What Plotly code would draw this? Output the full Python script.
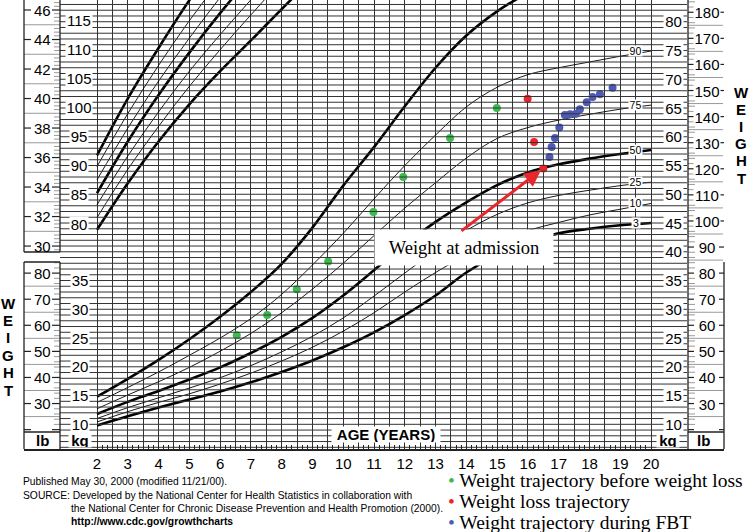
import numpy as np
import plotly.graph_objects as go

# ---------------- data ----------------
ages = list(range(2, 21))
wt_p3  = [9.8, 11.4, 12.9, 14.3, 15.7, 17.3, 19.1, 21.1, 23.4, 26.0, 29.0, 32.4, 36.4, 39.5, 41.8, 43.2, 44.0, 44.6, 45.0]
wt_p10 = [10.4, 12.2, 13.8, 15.3, 17.0, 18.9, 21.0, 23.4, 26.2, 29.4, 33.0, 36.4, 39.4, 41.8, 43.7, 45.1, 46.4, 47.4, 48.4]
wt_p25 = [11.0, 12.9, 14.6, 16.3, 18.1, 20.2, 22.6, 25.3, 28.5, 32.3, 36.3, 40.2, 43.7, 46.5, 48.5, 49.8, 50.7, 51.5, 52.1]
wt_p50 = [11.8, 13.9, 15.8, 17.8, 19.9, 22.4, 25.2, 28.5, 32.4, 36.8, 41.2, 45.2, 48.6, 51.6, 53.8, 55.2, 56.2, 57.0, 57.7]
wt_p75 = [12.7, 15.1, 17.4, 19.9, 22.7, 25.8, 29.4, 33.5, 38.0, 42.8, 47.6, 52.0, 56.3, 59.7, 61.6, 62.9, 63.9, 64.8, 65.5]
wt_p90 = [13.8, 16.4, 19.1, 22.0, 25.0, 28.4, 32.6, 37.7, 43.2, 49.2, 55.0, 60.3, 65.2, 68.6, 70.8, 72.0, 73.0, 74.0, 74.9]
wt_p97 = [14.8, 17.9, 21.2, 24.8, 28.7, 33.0, 37.9, 44.2, 51.5, 58.2, 65.3, 72.0, 77.6, 81.8, 85.0, 87.5, 89.5, 91.0, 92.5]
wt_curves = [("3", wt_p3, True), ("10", wt_p10, False), ("25", wt_p25, False), ("50", wt_p50, True),
             ("75", wt_p75, False), ("90", wt_p90, False), ("97", wt_p97, True)]

st_ages = [2, 3, 4, 5, 6, 7, 8, 9]
st_p3  = [79.0, 87.0, 94.2, 100.6, 106.3, 111.6, 117.0, 122.3]
st_p10 = [81.1, 89.4, 96.8, 103.7, 110.0, 116.0, 121.8, 127.0]
st_p25 = [83.3, 91.7, 99.3, 106.3, 112.6, 118.6, 124.5, 130.0]
st_p50 = [85.3, 94.2, 102.2, 109.5, 116.3, 122.6, 128.6, 134.5]
st_p75 = [87.6, 96.5, 104.6, 112.0, 119.0, 125.6, 132.0, 138.0]
st_p90 = [89.9, 99.0, 107.3, 115.0, 122.0, 128.8, 135.0, 141.0]
st_p97 = [91.8, 101.6, 110.3, 118.5, 125.8, 132.5, 139.0, 145.0]
st_curves = [(st_p3, True), (st_p10, False), (st_p25, False), (st_p50, True),
             (st_p75, False), (st_p90, False), (st_p97, True)]

green_age = [6.54, 7.53, 8.49, 9.51, 10.98, 11.95, 13.47, 14.99]
green_wt  = [25.5, 29.0, 33.5, 38.3, 46.9, 53.0, 59.8, 65.0]
red_age = [15.99, 16.20, 16.50]
red_wt  = [66.6, 59.1, 54.5]
blue_age = [16.70, 16.77, 16.88, 17.02, 17.20, 17.37, 17.56, 17.69, 17.91, 18.10, 18.34, 18.75]
blue_wt  = [56.5, 58.2, 59.8, 61.6, 63.8, 63.9, 64.0, 64.8, 66.0, 66.9, 67.4, 68.5]

age_ticks = list(range(2, 21))
kg_ticks_right = list(range(10, 81, 5))
kg_ticks_left = list(range(10, 36, 5))
cm_ticks = list(range(80, 116, 5))
in_ticks = list(range(30, 47, 2))
lb_ticks_left = list(range(30, 81, 10))
lb_ticks_right = list(range(30, 181, 10))

legend_items = [("#3dba4e", "Weight trajectory before weight loss"),
                ("#e8262b", "Weight loss trajectory"),
                ("#4d5bb5", "Weight trajectory during FBT")]
footer = ["Published May 30, 2000 (modified 11/21/00).",
          "SOURCE: Developed by the National Center for Health Statistics in collaboration with",
          "the National Center for Chronic Disease Prevention and Health Promotion (2000).",
          "<b>http://www.cdc.gov/growthcharts</b>"]

# ---------------- geometry ----------------
FIG_W, FIG_H = 749, 532
PL, PR, PT, PB = 24, 724, 0, 449
AGE2_PX, PX_PER_YEAR = 97.0, 30.78
KG10_PY, PX_PER_KG = 424.3, 5.751
CM80_PY, PX_PER_CM = 224.0, 5.809
LB = 0.45359237
INCH = 2.54

def age_at(px): return 2 + (px - AGE2_PX) / PX_PER_YEAR
def kg_at(py): return 10 + (KG10_PY - py) / PX_PER_KG
def cm_at(py): return 80 + (CM80_PY - py) / PX_PER_CM
def pxp(px): return (px - PL) / (PR - PL)
def pyp(py): return 1 - (py - PT) / (PB - PT)

SANS = "Liberation Sans"
SERIF = "Liberation Serif"
GRID = "#333333"
DARK = "#222222"
GRAY = "#9a9a9a"

fig = go.Figure()

def seg_trace(segs, color, width, xaxis="x", yaxis="y"):
    xs, ys = [], []
    for x0, y0, x1, y1 in segs:
        xs += [x0, x1, None]
        ys += [y0, y1, None]
    return go.Scatter(x=xs, y=ys, mode="lines", line=dict(color=color, width=width),
                      hoverinfo="skip", showlegend=False, xaxis=xaxis, yaxis=yaxis)

# horizontal grid (1 kg)
hsegs = [(age_at(60), k, age_at(687), k) for k in range(6, 84)]
fig.add_trace(seg_trace(hsegs, GRID, 1.0, xaxis="x2"))

# inch column ticks (upper left)
in_lo, in_hi = cm_at(252) / INCH, cm_at(0) / INCH
q_segs, long_segs, dash_segs = [], [], []
for q in np.arange(29.5, 47.0, 0.25):
    if not (in_lo <= q <= in_hi):
        continue
    c = q * INCH
    if abs(q - round(q)) < 1e-6:
        if int(round(q)) % 2 == 1:
            long_segs.append((age_at(24), c, age_at(60), c))
        else:
            dash_segs.append((age_at(24), c, age_at(31), c))
            dash_segs.append((age_at(52), c, age_at(60), c))
    else:
        q_segs.append((age_at(54), c, age_at(60), c))
fig.add_trace(seg_trace(q_segs + long_segs, GRAY, 1.0, yaxis="y2"))
fig.add_trace(seg_trace(dash_segs, DARK, 1.2, yaxis="y2"))

# lb columns
lbl_lo, lbl_hi = kg_at(432) / LB, kg_at(262) / LB
lbr_lo, lbr_hi = kg_at(432) / LB, kg_at(0) / LB
g_segs, d_segs = [], []
for lb in range(18, 190):
    k = lb * LB
    if lbl_lo <= lb <= lbl_hi:
        if lb % 10 == 0:
            d_segs += [(age_at(24), k, age_at(31), k), (age_at(52), k, age_at(60), k)]
        elif lb % 10 == 5:
            g_segs.append((age_at(24), k, age_at(60), k))
        elif lb % 2 == 0:
            g_segs.append((age_at(54), k, age_at(60), k))
    if lbr_lo <= lb <= lbr_hi:
        if lb % 10 == 0:
            d_segs += [(age_at(688), k, age_at(694), k), (age_at(719), k, age_at(724), k)]
        elif lb % 10 == 5:
            g_segs.append((age_at(688), k, age_at(723), k))
        elif lb % 2 == 0:
            g_segs.append((age_at(688), k, age_at(695), k))
fig.add_trace(seg_trace(g_segs, GRAY, 1.0))
fig.add_trace(seg_trace(d_segs, DARK, 1.2))

# stature curves
for vals, bold in st_curves:
    fig.add_trace(go.Scatter(x=st_ages, y=vals, mode="lines", yaxis="y2",
                             line=dict(color="black", width=2.6 if bold else 0.9, shape="spline", smoothing=1.0),
                             hoverinfo="skip", showlegend=False))
# weight curves
for name, vals, bold in wt_curves:
    fig.add_trace(go.Scatter(x=ages, y=vals, mode="lines",
                             line=dict(color="black", width=2.6 if bold else 0.9, shape="spline", smoothing=1.0),
                             hoverinfo="skip", showlegend=False))

# patient points
for (col, name), xa, ya in zip(legend_items, [green_age, red_age, blue_age], [green_wt, red_wt, blue_wt]):
    fig.add_trace(go.Scatter(x=xa, y=ya, mode="markers", name=name,
                             marker=dict(color=col, size=8, line=dict(width=0)),
                             showlegend=False))

# ---------------- shapes (frame) ----------------
shapes = []
def line_px(x0, y0, x1, y1, w=1.3, c=DARK):
    shapes.append(dict(type="line", xref="paper", yref="paper", x0=pxp(x0), y0=pyp(y0),
                       x1=pxp(x1), y1=pyp(y1), line=dict(color=c, width=w)))
for xx in (24, 60):
    line_px(xx, 0, xx, 252)
    line_px(xx, 262, xx, 449)
for yy in (252, 262, 432):
    line_px(24, yy, 60, yy)
line_px(688, 0, 688, 449)
line_px(724, 262, 724, 449)
line_px(688, 432, 724, 432)

# ---------------- annotations ----------------
ann = []
def lab(text, x, y, yref="y", size=15, bg=None, w=None, h=None, xref="x", color="black",
        family=SANS, xanchor="center"):
    d = dict(text=text, x=x, y=y, xref=xref, yref=yref, showarrow=False,
             font=dict(family=family, size=size, color=color), xanchor=xanchor, yanchor="middle",
             borderpad=0)
    if bg:
        d["bgcolor"] = bg
    if w:
        d["width"] = w
    if h:
        d["height"] = h
    ann.append(d)

for v in in_ticks:
    lab(str(v), age_at(42), v * INCH, yref="y2")
for v in cm_ticks:
    lab(str(v), age_at(78.5), v, yref="y2", bg="white", w=26 if v >= 100 else 18, h=15)
for v in lb_ticks_left:
    lab(str(v), age_at(42), v * LB)
for v in kg_ticks_left:
    lab(str(v), age_at(80), v, bg="white", w=18, h=15)
for v in kg_ticks_right:
    lab(str(v), age_at(673), v, bg="white", w=19, h=15)
for v in lb_ticks_right:
    lab(str(v), age_at(706.5), v * LB, bg="white", w=26 if v >= 100 else 18, h=14)

# percentile labels
for name, vals, bold in wt_curves:
    if name == "97":
        continue
    lab(name, age_at(635.5), vals[-1], size=10.5, bg="white", w=13 if len(name) > 1 else 8, h=10)

# bottom row labels
lab("<b>lb</b>", age_at(42), kg_at(440))
lab("<b>kg</b>", age_at(80), kg_at(440), bg="white", w=22, h=14)
lab("<b>kg</b>", age_at(668), kg_at(440), bg="white", w=22, h=14)
lab("<b>lb</b>", age_at(703), kg_at(440))
lab("<b>AGE (YEARS)</b>", age_at(386), kg_at(434), bg="white", w=108, h=15)

# WEIGHT letters
for i, ch in enumerate("WEIGHT"):
    lab("<b>%s</b>" % ch, pxp(741.5), pyp(92 + i * 17.2), xref="paper", yref="paper", size=15)
    lab("<b>%s</b>" % ch, pxp(8.3), pyp(303 + i * 17.4), xref="paper", yref="paper", size=15)

# admission label + arrow
lab("Weight at admission", age_at(464), kg_at(247.5), size=18.5, bg="white", w=178, h=35, family=SERIF)
ann.append(dict(x=red_age[-1], y=red_wt[-1], xref="x", yref="y", ax=age_at(460), ay=kg_at(232),
                axref="x", ayref="y", text="", showarrow=True, arrowhead=2, arrowsize=1.1,
                arrowwidth=3, arrowcolor="#e8262b", standoff=3))

# legend
for i, (col, name) in enumerate(legend_items):
    lab("<span style='color:%s'>•</span> %s" % (col, name), pxp(446.5), pyp(480.5 + i * 21),
        xref="paper", yref="paper", size=19.5, family=SERIF, xanchor="left")

# footer
foot_pos = [(21.5, 481), (21.5, 495), (69.5, 508.5), (69.5, 521.5)]
for txt, (fx, fy) in zip(footer, foot_pos):
    lab(txt, pxp(fx), pyp(fy), xref="paper", yref="paper", size=10.3, xanchor="left")

# ---------------- layout ----------------
half = [2 + 0.5 * i for i in range(37)]
xr = [age_at(PL), age_at(PR)]
fig.update_layout(
    width=FIG_W, height=FIG_H,
    margin=dict(l=PL, r=FIG_W - PR, t=PT, b=FIG_H - PB, pad=0),
    paper_bgcolor="white", plot_bgcolor="white",
    showlegend=False,
    xaxis=dict(range=xr, tickmode="array", tickvals=half,
               ticktext=[str(int(v)) if v == int(v) else "" for v in half],
               showgrid=True, gridcolor=GRID, gridwidth=1, zeroline=False,
               ticks="", tickfont=dict(family=SANS, size=15, color="black"),
               showline=True, linecolor=DARK, linewidth=1.5, fixedrange=True),
    xaxis2=dict(range=xr, overlaying="x", anchor="y", side="bottom", tickmode="array",
                tickvals=[2 + i / 6 for i in range(109)], ticks="inside", ticklen=4, tickwidth=1,
                tickcolor=DARK, showticklabels=False, showgrid=False, zeroline=False, showline=False),
    yaxis=dict(range=[kg_at(PB), kg_at(PT)], showgrid=False, zeroline=False,
               showticklabels=False, ticks="", showline=False, fixedrange=True),
    yaxis2=dict(range=[cm_at(PB), cm_at(PT)], overlaying="y", anchor="x", showgrid=False,
                zeroline=False, showticklabels=False, ticks="", showline=False),
    shapes=shapes, annotations=ann,
)

fig.write_html("out.html", config={"displayModeBar": False},
               post_script="document.body.style.margin='0px';document.body.style.overflow='hidden';")
